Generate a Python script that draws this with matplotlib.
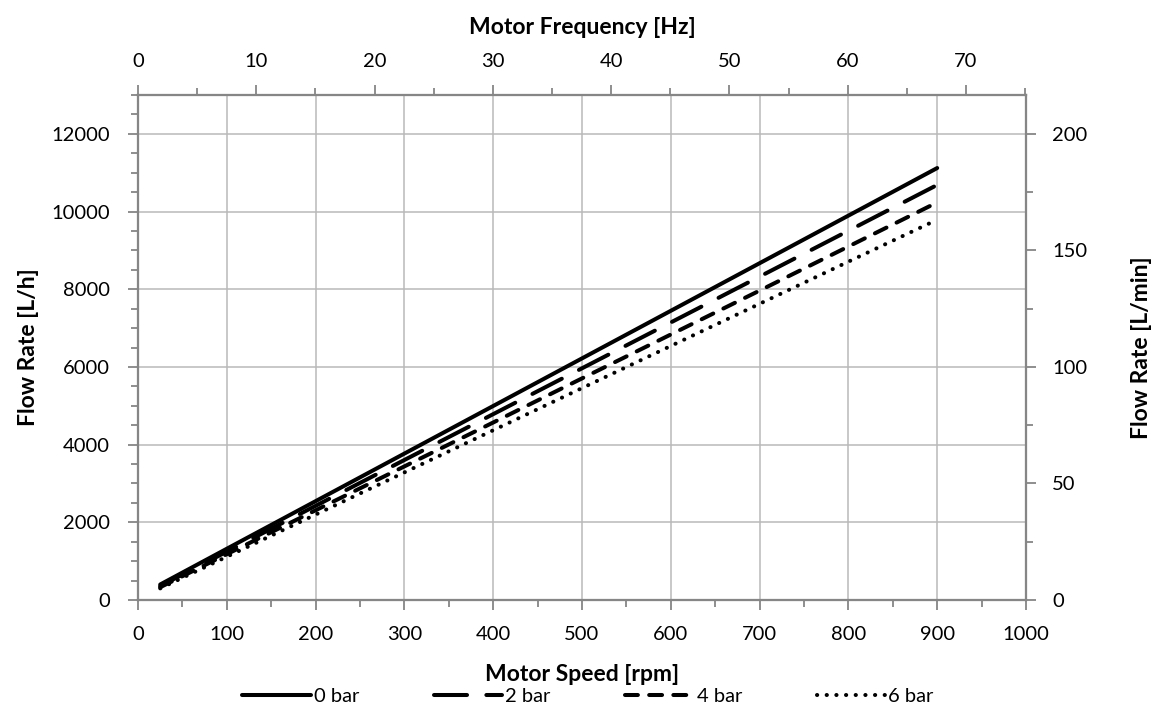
import matplotlib
matplotlib.use("Agg")
import matplotlib.pyplot as plt
from matplotlib.ticker import MultipleLocator

# Data
speed_rpm = [25, 100, 200, 300, 400, 500, 600, 700, 800, 900]
flow_0bar = [400, 1320, 2545, 3770, 4995, 6220, 7445, 8670, 9895, 11120]
flow_2bar = [360, 1245, 2425, 3605, 4785, 5965, 7145, 8325, 9505, 10685]
flow_4bar = [330, 1180, 2310, 3440, 4570, 5705, 6835, 7965, 9100, 10235]
flow_6bar = [300, 1115, 2200, 3285, 4370, 5455, 6540, 7625, 8710, 9790]
labels = ["0 bar", "2 bar", "4 bar", "6 bar"]

plt.rcParams["font.family"] = ["Lato", "DejaVu Sans"]
plt.rcParams["font.size"] = 14.5
lab_size = 16.5

fig = plt.figure(figsize=(11.55, 7.09), dpi=100, facecolor="white")
ax = fig.add_axes([0.1195, 0.1537, 0.7688, 0.7123])

spine_col = "#868686"
grid_col = "#b9b9b9"
lw = 2.9

styles = [
    "-",
    (0, (8.2, 4.8)),
    (0, (3.2, 2.8)),
    (0, (0.05, 2.35)),
]
series = [flow_0bar, flow_2bar, flow_4bar, flow_6bar]
for ys, ls, lab in zip(series, styles, labels):
    ax.plot(speed_rpm, ys, color="black", linewidth=lw, linestyle=ls, label=lab,
            solid_capstyle="round", dash_capstyle="round")

ax.set_xlim(0, 1000)
ax.set_ylim(0, 13000)
ax.xaxis.set_major_locator(MultipleLocator(100))
ax.xaxis.set_minor_locator(MultipleLocator(50))
ax.yaxis.set_major_locator(MultipleLocator(2000))
ax.yaxis.set_minor_locator(MultipleLocator(500))
ax.grid(which="major", color=grid_col, linewidth=1.1)
ax.set_axisbelow(True)

ax.set_xlabel("Motor Speed [rpm]", fontweight="bold", fontsize=lab_size, labelpad=15)
ax.set_ylabel("Flow Rate [L/h]", fontweight="bold", fontsize=lab_size, labelpad=9)

# top axis: motor frequency
ax_top = ax.twiny()
ax_top.set_xlim(0, 75.07)
ax_top.xaxis.set_major_locator(MultipleLocator(10))
ax_top.xaxis.set_minor_locator(MultipleLocator(5))
ax_top.set_xlabel("Motor Frequency [Hz]", fontweight="bold", fontsize=lab_size, labelpad=14)

# right axis: L/min
ax_r = ax.twinx()
ax_r.set_ylim(0, 13000 / 60)
ax_r.yaxis.set_major_locator(MultipleLocator(50))
ax_r.yaxis.set_minor_locator(MultipleLocator(25))
ax_r.set_ylabel("Flow Rate [L/min]", fontweight="bold", fontsize=lab_size, labelpad=31)

for a in (ax, ax_top, ax_r):
    for spine in a.spines.values():
        spine.set_edgecolor(spine_col)
        spine.set_linewidth(1.5)
    a.tick_params(which="major", direction="out", length=7, width=1.3, color=spine_col)
    a.tick_params(which="minor", direction="out", length=5, width=1.3, color=spine_col)

ax.tick_params(axis="x", which="major", pad=12)
ax.tick_params(axis="y", which="major", pad=13)
ax_top.tick_params(axis="x", which="major", pad=11)
ax_r.tick_params(axis="y", which="major", pad=12)

ax.legend(loc="center", bbox_to_anchor=(0.509, 0.018), bbox_transform=fig.transFigure,
          ncol=4, frameon=False, handlelength=3.4, handletextpad=0.15,
          columnspacing=3.7, fontsize=14.5)

fig.savefig("out.png", dpi=100, facecolor="white")
